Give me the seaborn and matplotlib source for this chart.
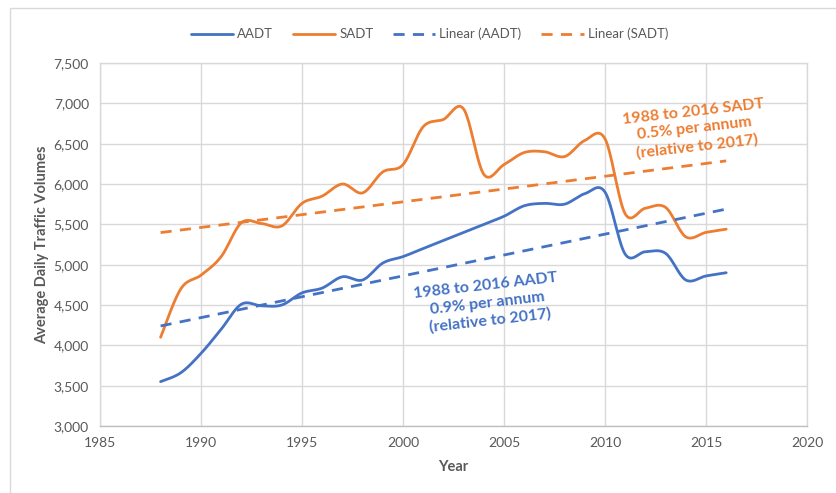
import numpy as np
import pandas as pd
import matplotlib
matplotlib.use("Agg")
import matplotlib.pyplot as plt
import seaborn as sns
from matplotlib.patches import Rectangle

years = list(range(1988, 2017))
aadt = [3550, 3660, 3900, 4200, 4510, 4490, 4500, 4650, 4710, 4850, 4810, 5020,
        5100, 5200, 5300, 5400, 5500, 5600, 5730, 5760, 5750, 5880, 5900, 5130,
        5160, 5140, 4810, 4860, 4900]
sadt = [4100, 4700, 4870, 5100, 5520, 5510, 5480, 5760, 5850, 6000, 5890, 6150,
        6240, 6710, 6800, 6930, 6120, 6240, 6390, 6400, 6340, 6540, 6560, 5630,
        5700, 5710, 5345, 5400, 5440]
x_ticks = [1985, 1990, 1995, 2000, 2005, 2010, 2015, 2020]
y_ticks = [3000, 3500, 4000, 4500, 5000, 5500, 6000, 6500, 7000, 7500]
series_names = ["AADT", "SADT"]
trend_names = ["Linear (AADT)", "Linear (SADT)"]
note_sadt = "1988 to 2016 SADT\n0.5% per annum\n(relative to 2017)"
note_aadt = "1988 to 2016 AADT\n0.9% per annum\n(relative to 2017)"

BLUE = "#4472C4"
ORANGE = "#ED7D31"
GREY = "#595959"

sns.set_style("white")
plt.rcParams["font.family"] = ["Lato", "DejaVu Sans"]


def smooth(x, y, n=20):
    """Catmull-Rom style smoothing (like Excel 'smoothed line') for display."""
    x = np.asarray(x, float)
    y = np.asarray(y, float)
    px = np.concatenate([[x[0]], x, [x[-1]]])
    py = np.concatenate([[y[0]], y, [y[-1]]])
    xs, ys = [], []
    t = np.linspace(0, 1, n, endpoint=False)
    for i in range(1, len(px) - 2):
        p0x, p1x, p2x, p3x = px[i - 1], px[i], px[i + 1], px[i + 2]
        p0y, p1y, p2y, p3y = py[i - 1], py[i], py[i + 1], py[i + 2]
        c1x, c1y = p1x + (p2x - p0x) / 6, p1y + (p2y - p0y) / 6
        c2x, c2y = p2x - (p3x - p1x) / 6, p2y - (p3y - p1y) / 6
        bx = (1 - t) ** 3 * p1x + 3 * (1 - t) ** 2 * t * c1x + 3 * (1 - t) * t ** 2 * c2x + t ** 3 * p2x
        by = (1 - t) ** 3 * p1y + 3 * (1 - t) ** 2 * t * c1y + 3 * (1 - t) * t ** 2 * c2y + t ** 3 * p2y
        xs.extend(bx)
        ys.extend(by)
    xs.append(x[-1])
    ys.append(y[-1])
    return np.array(xs), np.array(ys)


fig = plt.figure(figsize=(8.36, 4.93), dpi=100)
ax = fig.add_axes([100 / 836, 1 - 426 / 493, (807 - 100) / 836, (426 - 63) / 493])

# figure border
fig.patches.append(Rectangle((10 / 836, -0.1), 1.2, 1 - 8 / 493 + 0.1,
                             transform=fig.transFigure, fill=False,
                             edgecolor="#D9D9D9", lw=1.0, zorder=0))

for name, vals, col in [(series_names[0], aadt, BLUE), (series_names[1], sadt, ORANGE)]:
    sx, sy = smooth(years, vals)
    df = pd.DataFrame({"Year": sx, "Value": sy})
    sns.lineplot(data=df, x="Year", y="Value", ax=ax, color=col, lw=2.0,
                 label=name, sort=False, estimator=None)

for name, vals, col in [(trend_names[0], aadt, BLUE), (trend_names[1], sadt, ORANGE)]:
    df = pd.DataFrame({"Year": years, "Value": vals})
    sns.regplot(data=df, x="Year", y="Value", ax=ax, scatter=False, ci=None,
                color=col, label=name, line_kws={"ls": (0, (4, 3)), "lw": 2.0})

ax.set_xlim(1985, 2020)
ax.set_ylim(3000, 7500)
ax.set_xticks(x_ticks)
ax.set_yticks(y_ticks)
ax.set_yticklabels([f"{v:,}" for v in y_ticks])
ax.tick_params(axis="both", colors=GREY, labelsize=10, length=0, pad=8)
ax.grid(True, color="#D9D9D9", lw=1.0)
for s in ax.spines.values():
    s.set_visible(True)
    s.set_color("#D9D9D9")
    s.set_linewidth(1.0)
ax.spines["bottom"].set_color("#BFBFBF")

ax.set_xlabel("Year", color=GREY, fontsize=10.5, fontweight="bold", labelpad=8)
ax.set_ylabel("Average Daily Traffic Volumes", color=GREY, fontsize=10.5,
              fontweight="bold", labelpad=3)

handles, labels = ax.get_legend_handles_labels()
leg = ax.legend(handles, labels, loc="lower center", bbox_to_anchor=(0.466, 1.03),
                ncol=4, frameon=False, fontsize=9.5, handlelength=3.2,
                columnspacing=1.5, handletextpad=0.3, labelcolor=GREY)

ax.text(2014.45, 6680, note_sadt, color=ORANGE, fontsize=11.5, fontweight="bold",
        ha="center", va="center", rotation=6.5, linespacing=1.3)
ax.text(2004.2, 4520, note_aadt, color=BLUE, fontsize=11.5, fontweight="bold",
        ha="center", va="center", rotation=6.5, linespacing=1.3)

fig.savefig("out.png", dpi=100)
